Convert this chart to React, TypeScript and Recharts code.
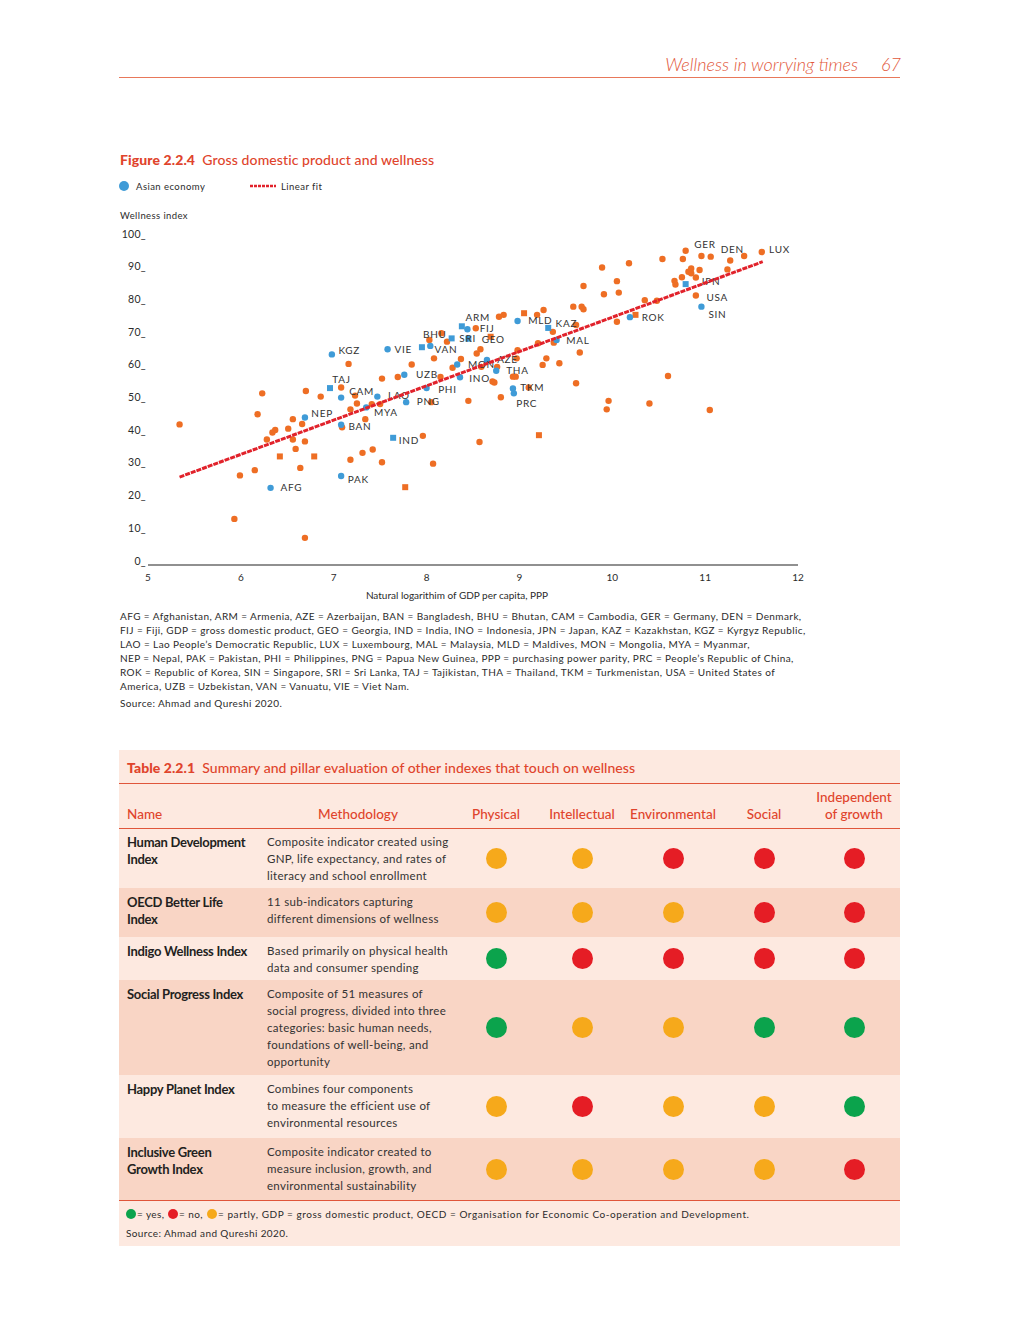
import React from 'react';
import { ScatterChart, Scatter, XAxis, YAxis, Label } from 'recharts';

// ---------- chart data ----------
const xTicks = [5, 6, 7, 8, 9, 10, 11, 12];
const yTicks = [0, 10, 20, 30, 40, 50, 60, 70, 80, 90, 100];

type Pt = { gdp: number; wellness: number; code?: string };

const otherCircle: Pt[] = [
  { gdp: 5.34, wellness: 43.0 }, { gdp: 6.18, wellness: 46.1 }, { gdp: 6.56, wellness: 44.6 },
  { gdp: 6.66, wellness: 43.1 }, { gdp: 6.51, wellness: 41.7 }, { gdp: 6.37, wellness: 41.3 },
  { gdp: 6.34, wellness: 40.5 }, { gdp: 6.28, wellness: 38.4 }, { gdp: 6.56, wellness: 38.4 },
  { gdp: 6.69, wellness: 37.8 }, { gdp: 6.59, wellness: 35.5 }, { gdp: 6.64, wellness: 29.7 },
  { gdp: 6.15, wellness: 29.0 }, { gdp: 5.99, wellness: 27.4 }, { gdp: 5.93, wellness: 14.1 },
  { gdp: 6.69, wellness: 8.3 }, { gdp: 7.09, wellness: 42.1 }, { gdp: 7.18, wellness: 47.6 },
  { gdp: 7.25, wellness: 49.4 }, { gdp: 7.34, wellness: 44.6 }, { gdp: 7.41, wellness: 49.2 },
  { gdp: 7.5, wellness: 49.2 }, { gdp: 7.96, wellness: 39.5 }, { gdp: 7.18, wellness: 32.2 },
  { gdp: 7.31, wellness: 34.3 }, { gdp: 7.42, wellness: 35.3 }, { gdp: 7.52, wellness: 31.4 },
  { gdp: 8.07, wellness: 31.0 }, { gdp: 6.23, wellness: 52.5 }, { gdp: 6.7, wellness: 53.2 },
  { gdp: 6.86, wellness: 51.5 }, { gdp: 7.08, wellness: 54.3 }, { gdp: 7.23, wellness: 51.8 },
  { gdp: 7.16, wellness: 61.5 }, { gdp: 7.52, wellness: 57.0 }, { gdp: 7.69, wellness: 57.5 },
  { gdp: 7.84, wellness: 61.3 }, { gdp: 8.03, wellness: 68.8 }, { gdp: 8.16, wellness: 70.9 },
  { gdp: 8.22, wellness: 68.3 }, { gdp: 8.08, wellness: 63.2 }, { gdp: 8.37, wellness: 63.0 },
  { gdp: 8.28, wellness: 60.3 }, { gdp: 8.15, wellness: 57.5 }, { gdp: 8.05, wellness: 49.8 },
  { gdp: 8.45, wellness: 50.2 }, { gdp: 8.57, wellness: 37.6 }, { gdp: 8.53, wellness: 72.4 },
  { gdp: 8.78, wellness: 75.9 }, { gdp: 8.83, wellness: 76.5 }, { gdp: 9.19, wellness: 76.5 },
  { gdp: 9.26, wellness: 78.0 }, { gdp: 9.58, wellness: 79.0 }, { gdp: 9.67, wellness: 79.0 },
  { gdp: 9.69, wellness: 78.2 }, { gdp: 9.36, wellness: 71.3 }, { gdp: 9.61, wellness: 73.4 },
  { gdp: 10.05, wellness: 74.4 }, { gdp: 9.37, wellness: 68.0 }, { gdp: 9.2, wellness: 67.8 },
  { gdp: 9.65, wellness: 65.0 }, { gdp: 8.58, wellness: 66.0 }, { gdp: 8.54, wellness: 64.7 },
  { gdp: 8.59, wellness: 60.6 }, { gdp: 8.98, wellness: 65.7 }, { gdp: 8.97, wellness: 63.2 },
  { gdp: 8.76, wellness: 60.6, code: 'AZE' }, { gdp: 8.93, wellness: 57.6 }, { gdp: 8.96, wellness: 57.6 },
  { gdp: 8.71, wellness: 56.1 }, { gdp: 8.73, wellness: 55.8 }, { gdp: 9.25, wellness: 61.2 },
  { gdp: 9.29, wellness: 63.2 }, { gdp: 9.43, wellness: 61.7 }, { gdp: 9.61, wellness: 55.6 },
  { gdp: 9.1, wellness: 54.3 }, { gdp: 8.8, wellness: 51.3 }, { gdp: 9.96, wellness: 50.2 },
  { gdp: 9.94, wellness: 47.6 }, { gdp: 9.89, wellness: 91.0 }, { gdp: 10.18, wellness: 92.3 },
  { gdp: 10.54, wellness: 93.6 }, { gdp: 10.79, wellness: 96.1, code: 'GER' }, { gdp: 10.76, wellness: 93.6 },
  { gdp: 10.96, wellness: 94.5 }, { gdp: 11.06, wellness: 94.3, code: 'DEN' }, { gdp: 11.27, wellness: 93.1 },
  { gdp: 11.42, wellness: 94.5 }, { gdp: 11.61, wellness: 95.7, code: 'LUX' }, { gdp: 11.24, wellness: 90.4 },
  { gdp: 10.85, wellness: 90.7 }, { gdp: 10.82, wellness: 89.7 }, { gdp: 10.85, wellness: 89.2 },
  { gdp: 10.94, wellness: 90.2 }, { gdp: 10.75, wellness: 88.0 }, { gdp: 10.9, wellness: 87.9 },
  { gdp: 10.67, wellness: 86.9 }, { gdp: 10.68, wellness: 85.8 }, { gdp: 10.9, wellness: 82.4, code: 'USA' },
  { gdp: 9.69, wellness: 85.3 }, { gdp: 10.05, wellness: 86.8 }, { gdp: 10.07, wellness: 83.3 },
  { gdp: 9.91, wellness: 82.8 }, { gdp: 10.35, wellness: 81.0 }, { gdp: 10.48, wellness: 80.8 },
  { gdp: 10.6, wellness: 57.8 }, { gdp: 10.4, wellness: 49.4 }, { gdp: 11.05, wellness: 47.4 },
];

const otherSquare: Pt[] = [
  { gdp: 6.42, wellness: 33.2 }, { gdp: 6.79, wellness: 33.2 }, { gdp: 7.77, wellness: 23.8 },
  { gdp: 9.05, wellness: 77.0 }, { gdp: 8.69, wellness: 69.8, code: 'GEO' }, { gdp: 10.25, wellness: 76.5 },
  { gdp: 9.21, wellness: 39.7 },
];

const asianCircle: Pt[] = [
  { gdp: 6.98, wellness: 64.4, code: 'KGZ' }, { gdp: 7.58, wellness: 66.0, code: 'VIE' },
  { gdp: 8.04, wellness: 67.0, code: 'VAN' }, { gdp: 8.33, wellness: 61.3 },
  { gdp: 8.36, wellness: 57.4, code: 'INO' }, { gdp: 8.44, wellness: 72.1, code: 'FIJ' },
  { gdp: 7.76, wellness: 58.2, code: 'UZB' }, { gdp: 8.0, wellness: 54.1, code: 'PHI' },
  { gdp: 7.08, wellness: 51.2, code: 'CAM' }, { gdp: 7.47, wellness: 51.5, code: 'LAO' },
  { gdp: 7.78, wellness: 49.8, code: 'PNG' }, { gdp: 6.69, wellness: 45.1, code: 'NEP' },
  { gdp: 7.35, wellness: 48.2, code: 'MYA' }, { gdp: 7.08, wellness: 42.9, code: 'BAN' },
  { gdp: 6.32, wellness: 23.6, code: 'AFG' }, { gdp: 7.08, wellness: 27.2, code: 'PAK' },
  { gdp: 8.98, wellness: 74.6, code: 'MLD' }, { gdp: 9.4, wellness: 68.8, code: 'MAL' },
  { gdp: 8.65, wellness: 62.7, code: 'MON' }, { gdp: 8.75, wellness: 59.4, code: 'THA' },
  { gdp: 8.93, wellness: 54.0, code: 'TKM' }, { gdp: 8.94, wellness: 52.5, code: 'PRC' },
  { gdp: 10.96, wellness: 79.0, code: 'SIN' }, { gdp: 10.19, wellness: 75.8, code: 'ROK' },
];

const asianSquare: Pt[] = [
  { gdp: 6.96, wellness: 54.1, code: 'TAJ' }, { gdp: 7.64, wellness: 38.9, code: 'IND' },
  { gdp: 7.95, wellness: 66.6 }, { gdp: 8.27, wellness: 69.3, code: 'BHU' },
  { gdp: 8.38, wellness: 73.0, code: 'ARM' }, { gdp: 8.45, wellness: 69.2, code: 'SRI' },
  { gdp: 9.31, wellness: 72.5, code: 'KAZ' }, { gdp: 10.79, wellness: 85.9, code: 'JPN' },
];

const fitLine: Pt[] = [
  { gdp: 5.34, wellness: 26.9 },
  { gdp: 11.62, wellness: 92.75 },
];

// ---------- table data ----------
const tableColumns = ['Physical', 'Intellectual', 'Environmental', 'Social'];
const indexNames = [
  ['Human Development', 'Index'],
  ['OECD Better Life', 'Index'],
  ['Indigo Wellness Index'],
  ['Social Progress Index'],
  ['Happy Planet Index'],
  ['Inclusive Green', 'Growth Index'],
];
const methodology = [
  ['Composite indicator created using', 'GNP, life expectancy, and rates of', 'literacy and school enrollment'],
  ['11 sub-indicators capturing', 'different dimensions of wellness'],
  ['Based primarily on physical health', 'data and consumer spending'],
  ['Composite of 51 measures of', 'social progress, divided into three', 'categories: basic human needs,', 'foundations of well-being, and', 'opportunity'],
  ['Combines four components', 'to measure the efficient use of', 'environmental resources'],
  ['Composite indicator created to', 'measure inclusion, growth, and', 'environmental sustainability'],
];
const ratings = [
  ['partly', 'partly', 'no', 'no', 'no'],
  ['partly', 'partly', 'partly', 'no', 'no'],
  ['yes', 'no', 'no', 'no', 'no'],
  ['yes', 'partly', 'partly', 'yes', 'yes'],
  ['partly', 'no', 'partly', 'partly', 'yes'],
  ['partly', 'partly', 'partly', 'partly', 'no'],
];

const footnoteLines = [
  'AFG = Afghanistan, ARM = Armenia, AZE = Azerbaijan, BAN = Bangladesh, BHU = Bhutan, CAM = Cambodia, GER = Germany, DEN = Denmark,',
  'FIJ = Fiji, GDP = gross domestic product, GEO = Georgia, IND = India, INO = Indonesia, JPN = Japan, KAZ = Kazakhstan, KGZ = Kyrgyz Republic,',
  'LAO = Lao People\u2019s Democratic Republic, LUX = Luxembourg, MAL = Malaysia, MLD = Maldives, MON = Mongolia, MYA = Myanmar,',
  'NEP = Nepal, PAK = Pakistan, PHI = Philippines, PNG = Papua New Guinea, PPP = purchasing power parity, PRC = People\u2019s Republic of China,',
  'ROK = Republic of Korea, SIN = Singapore, SRI = Sri Lanka, TAJ = Tajikistan, THA = Thailand, TKM = Turkmenistan, USA = United States of',
  'America, UZB = Uzbekistan, VAN = Vanuatu, VIE = Viet Nam.',
];

// ---------- styling ----------
const FONT = "Lato, 'Open Sans', sans-serif";
const ORANGE = '#ee6e24';
const BLUE = '#3f9bd7';
const FIT = '#e1222b';
const ACCENT = '#e0442c';
const TXT = '#2b2b2b';
const RATING_COLOR: Record<string, string> = { yes: '#0ba34c', no: '#e51d25', partly: '#f6a91b' };

const LABEL_OFFSETS: Record<string, [number, number]> = {
  KGZ: [6.6, -4.3], VIE: [7, 0], BHU: [-28.6, -4.3], VAN: [4.3, 3.3], TAJ: [2.3, -9],
  CAM: [8, -6.4], UZB: [11.7, -0.4], LAO: [10.6, -1], PHI: [11.6, 1.3], PNG: [10.7, -0.3],
  ARM: [3.7, -9], FIJ: [12.3, -1], SRI: [-9, -0.4], GEO: [-9, 2.6], MLD: [10.6, -0.3],
  KAZ: [7.4, -4.7], MAL: [9.7, 0.7], MON: [-19, 4], AZE: [0, -7.4], THA: [10, -0.4],
  INO: [9.3, 1], TKM: [7.4, -1], PRC: [2.4, 10], NEP: [6.4, -4.4], MYA: [7.7, 5.4],
  BAN: [7.3, 2], IND: [5.7, 2.3], AFG: [10, -0.4], PAK: [6.7, 3], GER: [8.7, -6.4],
  DEN: [10, -7.7], LUX: [7.3, -3], JPN: [14.7, -2.3], USA: [10.7, 2], SIN: [7, 7.3], ROK: [11.7, 0.3],
};

function makeShape(color: string, square: boolean) {
  return (props: any) => {
    const { cx, cy, payload } = props;
    if (cx == null || cy == null) return <g />;
    const code = payload && payload.code;
    const off = code ? LABEL_OFFSETS[code] : null;
    return (
      <g>
        {square ? (
          <rect x={cx - 3} y={cy - 3} width={6} height={6} fill={color} />
        ) : (
          <circle cx={cx} cy={cy} r={3.2} fill={color} />
        )}
        {off ? (
          <text x={cx + off[0]} y={cy + off[1]} dy="0.36em" fontSize={10} fill="#333" fontFamily={FONT} letterSpacing={0.7}>
            {code}
          </text>
        ) : null}
      </g>
    );
  };
}

const LeftTick = (props: any) => {
  const { x, y, payload } = props;
  return (
    <text x={x} y={y - 0.5} textAnchor="end" fontSize={10.5} fill={TXT} fontFamily={FONT} letterSpacing={0.3}>
      {payload.value + '_'}
    </text>
  );
};

const RightTick = (props: any) => {
  const { x, y } = props;
  return <line x1={x + 3} x2={x + 8} y1={y} y2={y} stroke="#333" strokeWidth={1} />;
};

const BottomTick = (props: any) => {
  const { x, y, payload } = props;
  return (
    <text x={x} y={y + 16} textAnchor="middle" fontSize={10} fill={TXT} fontFamily={FONT}>
      {payload.value}
    </text>
  );
};

const Txt = ({ x, cy, size = 10, children, style }: any) => {
  const lh = Math.round(size * 1.4);
  return (
    <div
      style={{
        position: 'absolute', left: x, top: cy - lh / 2, lineHeight: lh + 'px', fontSize: size,
        fontFamily: FONT, color: TXT, whiteSpace: 'nowrap', ...style,
      }}
    >
      {children}
    </div>
  );
};

const Dot = ({ cx, cy, d, color }: any) => (
  <div style={{ position: 'absolute', left: cx - d / 2, top: cy - d / 2, width: d, height: d, borderRadius: '50%', background: color }} />
);

function GdpChart() {
  return (
    <div style={{ position: 'absolute', left: 100, top: 220, width: 730, height: 400 }}>
      <ScatterChart width={730} height={400} margin={{ top: 18, right: 12, bottom: 15, left: 8 }}>
        <XAxis
          type="number" dataKey="gdp" domain={[5, 12]} ticks={xTicks} interval={0}
          axisLine={{ stroke: '#222', strokeWidth: 1.2 }} tickLine={false} tickSize={0} tickMargin={0}
          tick={<BottomTick />} height={40}
        >
          <Label
            content={(p: any) => {
              const vb = p.viewBox || { x: 148, y: 565, width: 650 };
              return (
                <text x={vb.x + 309} y={vb.y + 34} textAnchor="middle" fontSize={10} fill={TXT} fontFamily={FONT}>
                  Natural logarithim of GDP per capita, PPP
                </text>
              );
            }}
          />
        </XAxis>
        <YAxis
          yAxisId="left" type="number" dataKey="wellness" domain={[0, 100]} ticks={yTicks} interval={0}
          axisLine={false} tickLine={false} tickSize={0} tickMargin={2} width={40} tick={<LeftTick />}
        />
        <YAxis
          yAxisId="right" orientation="right" type="number" domain={[0, 100]} ticks={yTicks} interval={0}
          axisLine={false} tickLine={false} tickSize={0} tickMargin={0} width={20} tick={<RightTick />}
        />
        <Scatter yAxisId="left" data={otherCircle} shape={makeShape(ORANGE, false)} isAnimationActive={false} />
        <Scatter yAxisId="left" data={otherSquare} shape={makeShape(ORANGE, true)} isAnimationActive={false} />
        <Scatter yAxisId="left" data={asianCircle} shape={makeShape(BLUE, false)} isAnimationActive={false} />
        <Scatter yAxisId="left" data={asianSquare} shape={makeShape(BLUE, true)} isAnimationActive={false} />
        <Scatter
          yAxisId="left" data={fitLine} line={{ stroke: FIT, strokeWidth: 3, strokeDasharray: '5 1' }}
          shape={() => <g />} isAnimationActive={false}
        />
      </ScatterChart>
    </div>
  );
}

// table geometry
const rowTops = [828, 888, 937, 980, 1075, 1138, 1200];
const dotXs = [496, 582, 673, 764, 854];
const LIGHT = '#fde9e0';
const DARK = '#f9d5c5';

export default function App() {
  return (
    <div style={{ position: 'absolute', left: 0, top: 0, width: 1020, height: 1320, background: '#fff', fontFamily: FONT }}>
      {/* page header */}
      <Txt x={0} cy={64} size={18} style={{ width: 858, textAlign: 'right', color: '#e2583a', fontStyle: 'italic', fontWeight: 300 }}>
        Wellness in worrying times
      </Txt>
      <Txt x={881} cy={64} size={18} style={{ color: '#e2583a', fontStyle: 'italic', fontWeight: 300 }}>67</Txt>
      <div style={{ position: 'absolute', left: 119, top: 77, width: 781, height: 1, background: '#e8785a' }} />

      {/* figure title & legend */}
      <Txt x={120} cy={160} size={14} style={{ color: ACCENT, letterSpacing: 0.1 }}>
        <span style={{ fontWeight: 900 }}>Figure 2.2.4</span>
        <span style={{ fontWeight: 500 }}>&nbsp; Gross domestic product and wellness</span>
      </Txt>
      <Dot cx={124} cy={186} d={10} color={BLUE} />
      <Txt x={136} cy={186} size={9.5} style={{ letterSpacing: 0.45 }}>Asian economy</Txt>
      <svg style={{ position: 'absolute', left: 250, top: 183 }} width={26} height={6}>
        <line x1={0} x2={26} y1={3} y2={3} stroke={FIT} strokeWidth={2.6} strokeDasharray="3 1" />
      </svg>
      <Txt x={281} cy={186} size={9.5} style={{ letterSpacing: 0.45 }}>Linear fit</Txt>
      <Txt x={120} cy={215} size={9.5} style={{ letterSpacing: 0.4 }}>Wellness index</Txt>

      <GdpChart />

      {footnoteLines.map((l, i) => (
        <Txt key={i} x={120} cy={616 + i * 14} size={10} style={{ letterSpacing: 0.41 }}>{l}</Txt>
      ))}
      <Txt x={120} cy={703} size={10} style={{ letterSpacing: 0.4 }}>Source: Ahmad and Qureshi 2020.</Txt>

      {/* table */}
      <div style={{ position: 'absolute', left: 119, top: 750, width: 781, height: 496, background: LIGHT }} />
      {[1, 3, 5].map((r) => (
        <div key={r} style={{ position: 'absolute', left: 119, top: rowTops[r], width: 781, height: rowTops[r + 1] - rowTops[r], background: DARK }} />
      ))}
      {[783, 828, 1200].map((y) => (
        <div key={y} style={{ position: 'absolute', left: 119, top: y, width: 781, height: 1, background: '#e0553a' }} />
      ))}
      <Txt x={127} cy={768} size={14} style={{ color: ACCENT, letterSpacing: 0.05 }}>
        <span style={{ fontWeight: 900 }}>Table 2.2.1</span>
        <span style={{ fontWeight: 500 }}>&nbsp; Summary and pillar evaluation of other indexes that touch on wellness</span>
      </Txt>
      <Txt x={127} cy={814} size={13.5} style={{ color: ACCENT, fontWeight: 500 }}>Name</Txt>
      <Txt x={258} cy={814} size={13.5} style={{ color: ACCENT, fontWeight: 500, width: 200, textAlign: 'center' }}>Methodology</Txt>
      {tableColumns.map((c, i) => (
        <Txt key={c} x={dotXs[i] - 60} cy={814} size={13.5} style={{ color: ACCENT, fontWeight: 500, width: 120, textAlign: 'center' }}>{c}</Txt>
      ))}
      <Txt x={dotXs[4] - 60} cy={797} size={13.5} style={{ color: ACCENT, fontWeight: 500, width: 120, textAlign: 'center' }}>Independent</Txt>
      <Txt x={dotXs[4] - 60} cy={814} size={13.5} style={{ color: ACCENT, fontWeight: 500, width: 120, textAlign: 'center' }}>of growth</Txt>

      {indexNames.map((nameLines, r) => {
        const top = rowTops[r];
        const mid = (rowTops[r] + rowTops[r + 1]) / 2;
        return (
          <React.Fragment key={r}>
            {nameLines.map((t, j) => (
              <Txt key={'n' + j} x={127} cy={top + 14 + j * 17} size={13} style={{ fontWeight: 700, color: '#231f20', letterSpacing: -0.3 }}>{t}</Txt>
            ))}
            {methodology[r].map((t, j) => (
              <Txt key={'m' + j} x={267} cy={top + 14 + j * 17} size={11.5} style={{ color: '#333', letterSpacing: 0.3 }}>{t}</Txt>
            ))}
            {ratings[r].map((v, k) => (
              <Dot key={'d' + k} cx={dotXs[k]} cy={mid} d={21} color={RATING_COLOR[v]} />
            ))}
          </React.Fragment>
        );
      })}

      <Dot cx={131} cy={1214} d={10} color={RATING_COLOR.yes} />
      <Txt x={137} cy={1214} size={10} style={{ letterSpacing: 0.4 }}>= yes,</Txt>
      <Dot cx={173} cy={1214} d={10} color={RATING_COLOR.no} />
      <Txt x={179} cy={1214} size={10} style={{ letterSpacing: 0.4 }}>= no,</Txt>
      <Dot cx={212} cy={1214} d={10} color={RATING_COLOR.partly} />
      <Txt x={218} cy={1214} size={10} style={{ letterSpacing: 0.55 }}>= partly, GDP = gross domestic product, OECD = Organisation for Economic Co-operation and Development.</Txt>
      <Txt x={126} cy={1233} size={10} style={{ letterSpacing: 0.4 }}>Source: Ahmad and Qureshi 2020.</Txt>
    </div>
  );
}
